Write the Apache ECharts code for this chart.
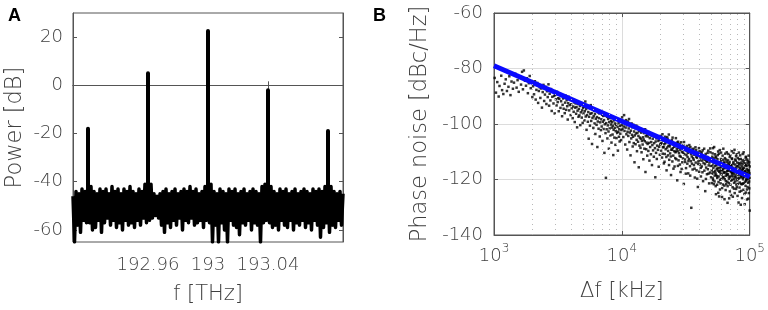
<!DOCTYPE html>
<html><head><meta charset="utf-8">
<script src="https://cdn.jsdelivr.net/npm/echarts@6/dist/echarts.min.js"></script>
<style>html,body{margin:0;padding:0;background:#fff}#c{width:768px;height:310px}</style>
</head><body><div id="c"></div>
<script>
// ---------- Panel A: optical spectrum ----------
const specStartTHz = 192.91;   // first sample frequency
const specStepTHz = 0.001;     // sample spacing
// noise-floor power [dB] per sample
const specPowerDb = [
 -46,-65,-44,-58,-45,-61,-43,-56,-44,-57,-40,-57,-42,-60,-44,-59,-45,-56,-43,-61,
 -44,-57,-43,-55,-45,-58,-42,-56,-44,-59,-43,-57,-45,-60,-43,-56,-44,-58,-42,-57,
 -44,-59,-45,-56,-43,-58,-44,-55,-41,-57,-40,-56,-41,-55,-45,-54,-46,-55,-45,-58,
 -44,-61,-43,-57,-45,-59,-44,-56,-43,-58,-45,-55,-44,-60,-43,-56,-44,-57,-42,-55,
 -44,-58,-43,-57,-45,-56,-44,-59,-42,-56,-40,-57,-41,-65,-44,-58,-45,-65,-43,-57,
 -44,-60,-45,-65,-43,-56,-44,-58,-43,-59,-45,-62,-44,-57,-43,-58,-45,-56,-44,-60,
 -43,-57,-44,-58,-45,-65,-42,-57,-41,-56,-40,-57,-42,-59,-44,-58,-45,-60,-43,-56,
 -44,-58,-43,-59,-45,-56,-44,-60,-43,-57,-45,-58,-44,-56,-43,-59,-44,-57,-45,-60,
 -43,-56,-44,-58,-43,-63,-44,-59,-42,-57,-41,-61,-42,-58,-44,-59,-45,-56,-44,-58,
 -45
];
// comb lines
const peakFreqTHz = [192.92, 192.96, 193, 193.04, 193.08];
const peakPowerDb = [-18, 5, 22.5, -2, -19];
const peakBaseDb = -46;
const specTicks = [192.96, 193, 193.04];
const specYTicks = [-60, -40, -20, 0, 20];

// ---------- Panel B: phase noise ----------
// scatter points [offset kHz, dBc/Hz]
const pnPoints = [
 [1012,-83.4],[1036,-88.7],[1061,-84.9],[1088,-90.1],[1104,-86.3],[1139,-82.6],[1157,-87.8],[1183,-89.2],[1210,-85.5],[1236,-83.9],
 [1262,-88.1],[1297,-86.6],[1318,-82.8],[1345,-89.6],[1371,-84.7],[1406,-87.3],[1433,-85.1],[1467,-81.9],[1502,-86.9],[1529,-84.2],
 [1561,-88.4],[1593,-83.1],[1627,-85.8],[1658,-81.2],[1684,-87.5],[1712,-80.7],[1748,-84.4],[1779,-86.2],[1806,-83.5],[1841,-88.9],
 [1873,-85.3],[1902,-82.7],[1938,-87.1],[1967,-84.8],[1994,-90.3],
 [2021,-86.4],[2057,-89.3],[2089,-84.6],[2118,-91.2],[2146,-87.7],[2183,-85.2],[2214,-92.4],[2242,-88.1],[2279,-86.8],[2305,-90.6],
 [2338,-87.2],[2371,-94.1],[2404,-88.5],[2437,-85.9],[2468,-91.7],[2502,-89.4],[2533,-86.6],[2569,-92.8],[2596,-88.2],[2631,-90.3],
 [2667,-85.7],[2698,-93.4],[2724,-89.1],[2761,-91.5],[2793,-87.4],[2826,-95.3],[2858,-90.2],[2887,-88.3],[2919,-92.6],[2954,-89.9],
 [2983,-96.2],[3017,-89.5],[3049,-91.1],[3086,-93.3],[3112,-88.4],[3148,-92.1],[3177,-90.7],[3209,-95.4],[3243,-90.9],[3276,-89.1],
 [3311,-94.2],[3347,-91.8],[3372,-89.6],[3408,-97.2],[3441,-93.1],[3469,-90.8],[3506,-94.5],[3538,-90.4],[3574,-96.1],[3601,-92.3],
 [3639,-89.8],[3668,-94.9],[3703,-91.4],[3735,-93.6],[3772,-98.4],[3804,-92.5],[3839,-90.2],[3871,-95.1],[3906,-93.2],[3937,-91.3],
 [3978,-96.8],[4012,-92.9],[4051,-94.4],[4083,-91.5],[4127,-97.9],[4162,-93.7],[4198,-95.6],[4236,-92.2],[4279,-99.3],[4311,-94.1],
 [4352,-92.6],[4389,-96.3],[4421,-93.9],[4467,-101.2],[4503,-95.2],[4538,-92.8],[4579,-97.4],[4614,-94.6],[4652,-96.9],[4697,-93.5],
 [4731,-100.4],[4774,-95.8],[4812,-93.1],[4856,-97.7],[4893,-95.1],[4938,-99.6],[4971,-94.3],
 [5012,-96.2],[5054,-93.8],[5093,-98.7],[5131,-95.4],[5178,-91.9],[5214,-97.3],[5257,-94.6],[5293,-102.1],[5338,-96.8],[5376,-93.5],
 [5419,-99.2],[5463,-95.7],[5502,-105.3],[5541,-97.4],[5589,-94.1],[5627,-100.6],[5671,-96.3],[5712,-93.2],[5758,-98.9],[5804,-96.1],
 [5843,-107.2],[5891,-97.8],[5934,-94.7],[5982,-101.4],[6021,-97.2],[6067,-95.3],[6113,-99.8],[6158,-96.4],[6204,-103.6],[6249,-98.1],
 [6298,-94.9],[6341,-100.3],[6387,-97.5],[6432,-108.3],[6479,-99.1],[6528,-95.8],[6573,-101.7],[6621,-97.9],[6669,-96.2],[6714,-104.5],
 [6762,-99.4],[6811,-95.6],[6859,-102.2],[6908,-98.3],[6953,-100.9],[7004,-96.7],[7052,-106.1],[7103,-99.2],[7149,-97.1],[7198,-101.8],
 [7251,-98.6],[7302,-110.4],[7347,-100.1],[7396,-96.9],[7449,-103.3],[7503,-119.4],[7548,-99.7],[7602,-101.9],[7651,-97.4],[7704,-105.2],
 [7758,-100.5],[7811,-98.2],[7862,-102.7],[7913,-108.9],[7967,-99.3],[8021,-101.6],[8078,-97.8],[8129,-104.1],[8183,-100.2],[8237,-98.9],
 [8294,-106.7],[8348,-101.3],[8401,-99.4],[8459,-103.8],[8512,-100.6],[8569,-111.2],[8623,-102.1],[8681,-98.7],[8737,-104.9],[8792,-101.4],
 [8853,-99.8],[8908,-107.5],[8962,-102.6],[9021,-100.3],[9078,-105.1],[9139,-98.4],[9194,-103.2],[9253,-101.1],[9312,-109.6],[9371,-102.8],
 [9428,-99.7],[9491,-104.6],[9547,-101.9],[9608,-106.3],[9664,-100.7],[9723,-103.5],[9789,-98.9],[9847,-105.8],[9912,-102.2],[9971,-100.4],
 [10043,-97.6],[10118,-101.8],[10197,-99.3],[10264,-104.7],[10338,-100.9],[10409,-96.8],[10487,-102.5],[10553,-99.9],[10631,-107.4],[10702,-101.3],
 [10779,-98.6],[10851,-103.7],[10928,-100.4],[11002,-109.2],[11074,-102.8],[11149,-99.1],[11226,-104.3],[11301,-101.6],[11378,-98.2],[11452,-106.5],
 [11529,-103.1],[11603,-100.7],[11684,-111.3],[11759,-102.4],[11837,-105.2],[11914,-99.8],[11993,-103.9],[12071,-101.2],[12152,-108.1],[12229,-104.6],
 [12311,-100.3],[12389,-106.9],[12472,-102.7],[12553,-113.8],[12634,-104.1],[12718,-101.5],[12796,-107.3],[12881,-103.4],[12962,-100.6],[13047,-105.7],
 [13129,-109.8],[13214,-103.2],[13298,-101.1],[13383,-106.4],[13469,-104.3],[13552,-115.6],[13641,-102.6],[13727,-107.8],[13813,-104.9],[13902,-101.7],
 [13991,-108.6],[14078,-105.3],[14169,-103.1],[14257,-110.2],[14349,-106.1],[14441,-102.2],[14533,-107.4],[14624,-104.8],[14718,-112.7],[14811,-105.6],
 [14907,-103.3],[15003,-108.9],[15098,-106.2],[15196,-101.9],[15294,-117.3],[15392,-104.4],[15491,-109.1],[15593,-106.7],[15692,-103.8],[15796,-111.4],
 [15898,-107.2],[16002,-104.5],[16109,-109.7],[16213,-102.9],[16321,-106.8],[16428,-113.2],[16537,-105.1],[16644,-108.3],[16755,-103.6],[16864,-110.9],
 [16976,-106.5],[17089,-104.2],[17201,-114.8],[17317,-107.6],[17431,-105.3],[17546,-109.5],[17664,-103.7],[17781,-111.8],[17899,-106.9],[18019,-104.6],
 [18141,-108.7],[18262,-119.2],[18386,-106.3],[18509,-110.4],[18634,-105.2],[18761,-112.6],[18889,-107.8],[19018,-104.9],[19148,-109.3],[19281,-106.1],
 [19412,-115.4],[19547,-108.2],[19681,-105.7],[19818,-111.1],[19957,-107.4],
 [20094,-104.3],[20273,-109.6],[20431,-106.8],[20618,-112.1],[20779,-103.7],[20952,-108.4],[21127,-105.9],[21308,-114.2],[21476,-107.3],[21651,-110.8],
 [21834,-104.6],[22009,-109.1],[22187,-106.2],[22368,-116.7],[22549,-108.5],[22731,-105.4],[22918,-111.3],[23102,-107.9],[23287,-103.8],[23476,-112.9],
 [23664,-108.1],[23853,-110.6],[24047,-106.3],[24238,-118.4],[24434,-109.2],[24629,-105.8],[24828,-113.5],[25024,-108.7],[25227,-111.4],[25428,-106.9],
 [25631,-109.8],[25837,-115.3],[26044,-107.6],[26253,-110.2],[26461,-105.1],[26674,-112.7],[26886,-108.9],[27101,-120.3],[27318,-109.7],[27534,-106.4],
 [27753,-113.1],[27976,-110.5],[28197,-107.2],[28423,-114.6],[28649,-109.4],[28876,-111.8],[29107,-106.6],[29339,-116.2],[29571,-110.1],[29806,-108.3],
 [30043,-112.4],[30282,-107.7],[30521,-121.6],[30763,-110.9],[31008,-108.6],[31254,-113.7],[31502,-109.1],[31753,-115.9],[32004,-111.2],[32259,-107.9],
 [32516,-114.3],[32773,-110.4],[33034,-117.8],[33297,-108.8],[33561,-112.6],[33828,-110.1],[34097,-115.2],[34368,-108.3],[34642,-113.4],[34918,-130.2],
 [35196,-111.7],[35474,-109.2],[35757,-116.4],[36041,-112.3],[36327,-108.9],[36615,-114.8],[36905,-111.1],[37198,-119.3],[37492,-110.6],[37789,-113.9],
 [38087,-109.4],[38388,-116.7],[38691,-112.2],[38997,-110.3],[39304,-122.7],[39614,-113.5],[39926,-111.4],[40240,-117.2],[40557,-109.8],[40876,-114.6],
 [41197,-112.1],[41521,-118.9],[41847,-110.7],[42175,-115.3],[42506,-113.2],[42839,-109.5],[43174,-120.6],[43512,-114.1],[43853,-111.6],[44195,-116.8],
 [44541,-112.9],[44888,-124.2],[45238,-110.8],[45591,-115.7],[45946,-113.4],[46304,-118.1],[46664,-111.9],[47026,-116.3],[47391,-109.6],[47759,-114.9],
 [48129,-121.4],[48502,-112.7],[48876,-117.5],[49254,-110.2],[49634,-115.1],
 [20185,-107.1],[20526,-105.2],[20866,-110.7],[21213,-108.3],[21563,-113.6],[21918,-106.9],[22276,-111.9],[22638,-104.8],[23011,-109.7],[23381,-114.8],
 [23758,-107.4],[24139,-111.7],[24531,-109.3],[24926,-104.9],[25326,-116.1],[25733,-108.2],[26148,-112.3],[26568,-109.9],[26993,-106.7],[27426,-115.1],
 [27866,-108.6],[28311,-111.5],[28763,-117.3],[29223,-108.1],[29689,-113.8],[30162,-110.3],[30641,-106.5],[31131,-112.8],[31627,-117.9],[32132,-109.7],
 [32645,-111.9],[33165,-113.3],[33694,-107.6],[34232,-118.6],[34779,-110.8],[35335,-114.3],[35899,-109.6],[36471,-112.9],[37052,-116.1],[37641,-108.4],
 [38238,-111.8],[38843,-119.7],[39459,-114.4],[40083,-108.7],[40716,-113.1],[41359,-115.8],[42011,-110.2],[42672,-117.4],[43343,-112.4],[44024,-108.9],
 [44715,-114.5],[45414,-119.8],[46125,-113.6],[46845,-110.4],[47575,-117.9],[48317,-113.9],[49066,-108.8],[49827,-119.2],
 [50212,-113.4],[50718,-117.9],[51196,-110.6],[51703,-120.2],[52187,-114.1],[52694,-108.3],[53178,-118.6],[53689,-115.2],[54183,-122.4],[54691,-112.1],
 [55197,-116.3],[55703,-119.4],[56219,-111.2],[56728,-124.8],[57241,-114.3],[57752,-117.2],[58269,-109.4],[58781,-120.1],[59297,-115.4],[59814,-113.2],
 [60339,-118.2],[60853,-123.1],[61372,-111.4],[61896,-116.2],[62417,-119.3],[62941,-114.2],[63468,-127.1],[63996,-112.3],[64521,-117.4],[65053,-120.6],
 [65582,-115.1],[66117,-110.2],[66649,-118.3],[67183,-122.4],[67719,-113.1],[68258,-116.4],[68797,-119.7],[69342,-114.6],[69884,-124.3],[70429,-111.3],
 [70977,-117.1],[71524,-120.4],[72078,-115.2],[72631,-112.4],[73187,-118.1],[73746,-126.2],[74305,-114.3],[74868,-117.3],[75431,-121.2],[75999,-109.3],
 [76567,-116.2],[77134,-119.1],[77709,-113.2],[78282,-123.4],[78861,-117.2],[79439,-115.1],[80021,-120.3],[80603,-112.2],[81188,-118.4],[81776,-128.3],
 [82365,-114.1],[82957,-117.2],[83552,-121.1],[84148,-111.3],[84747,-116.4],[85349,-119.2],[85951,-124.1],[86558,-115.3],[87165,-118.2],[87775,-113.1],
 [88389,-121.4],[89004,-116.1],[89621,-110.2],[90241,-119.1],[90863,-125.2],[91488,-114.2],[92114,-117.1],[92744,-122.3],[93377,-112.1],[94011,-120.1],
 [94648,-116.3],[95287,-127.2],[95928,-114.1],[96571,-118.3],[97218,-121.2],[97867,-111.4],[98518,-117.1],[99171,-123.2],[99826,-115.3],
 [50463,-116.7],[50952,-111.8],[51449,-119.6],[51944,-115.8],[52441,-121.7],[52937,-113.6],[53433,-110.9],[53934,-117.7],[54437,-125.3],[54944,-114.8],
 [55449,-118.8],[55961,-112.7],[56473,-116.8],[56988,-120.9],[57497,-110.7],[58011,-115.9],[58523,-123.6],[59038,-117.8],[59556,-112.6],[60076,-119.8],
 [60596,-114.9],[61112,-116.7],[61634,-121.8],[62158,-108.9],[62679,-117.6],[63204,-113.8],[63733,-119.9],[64259,-115.7],[64788,-123.8],[65317,-112.8],
 [65849,-117.9],[66384,-114.7],[66917,-120.8],[67451,-116.9],[67989,-110.8],[68528,-118.9],[69071,-126.8],[69613,-113.7],[70158,-116.8],[70701,-121.9],
 [71251,-114.8],[71801,-118.7],[72354,-109.8],[72908,-117.7],[73467,-122.8],[74025,-115.8],[74586,-113.7],[75147,-119.8],[75715,-116.7],[76282,-124.9],
 [76852,-112.8],[77422,-118.6],[77996,-115.7],[78571,-121.8],[79152,-110.9],[79729,-117.8],[80312,-125.9],[80896,-114.8],[81481,-119.7],[82069,-116.8],
 [82661,-112.7],[83253,-122.9],[83851,-117.6],[84449,-115.8],[85047,-129.1],[85649,-113.9],[86252,-118.8],[86863,-121.7],[87471,-116.7],[88083,-110.8],
 [88696,-119.9],[89312,-123.7],[89931,-115.7],[90552,-118.7],[91174,-112.9],[91801,-120.8],[92431,-116.9],[93063,-124.7],[93694,-114.9],[94329,-119.8],
 [94967,-117.6],[95606,-112.8],[96249,-122.7],[96892,-116.8],[97541,-126.9],[98191,-114.7],[98844,-120.7],[99499,-117.8],[99954,-131.2],
 [50584,-121.3],[51071,-114.9],[51577,-108.7],[52065,-117.4],[52563,-112.4],[53061,-120.7],[53561,-116.9],[54062,-111.7],[54564,-118.3],[55071,-113.9],
 [55576,-121.9],[56089,-115.8],[56601,-109.9],[57118,-118.9],[57629,-126.1],[58142,-113.8],[58652,-116.9],[59167,-121.4],[59684,-110.3],[60207,-116.5],
 [60724,-126.3],[61243,-114.4],[61765,-119.1],[62287,-112.9],[62812,-117.3],[63336,-122.2],[63863,-115.9],[64392,-110.7],[64919,-118.7],[65448,-121.7],
 [65981,-113.6],[66518,-116.9],[67051,-128.4],[67586,-118.1],[68123,-114.2],[68664,-121.3],[69207,-116.1],[69751,-111.9],[70293,-119.2],[70839,-114.9],
 [71383,-125.6],[71937,-117.4],[72491,-112.6],[73049,-120.1],[73606,-116.6],[74166,-118.9],[74727,-110.4],[75289,-123.3],[75853,-117.9],[76424,-114.6],
 [76993,-120.7],[77566,-116.4],[78142,-111.6],[78719,-119.6],[79296,-122.7],[79877,-113.9],[80461,-117.5],[81045,-121.6],[81629,-115.6],[82218,-110.3],
 [82809,-119.4],[83402,-124.4],[84001,-114.6],[84598,-118.3],[85198,-112.6],[85803,-121.6],[86404,-117.1],[87015,-126.7],[87625,-114.5],[88236,-119.3],
 [88852,-116.2],[89468,-113.7],[90087,-121.5],[90707,-117.3],[91332,-128.9],[91958,-114.8],[92587,-118.2],[93218,-111.8],[93853,-120.6],[94488,-115.2],
 [95129,-123.6],[95771,-117.9],[96411,-113.3],[97062,-119.6],[97712,-116.5],[98364,-124.9],[99017,-113.8],[99661,-119.4]
];
// fitted trend line endpoints
const fitFreqKHz = [1000, 100000];
const fitNoiseDb = [-79, -119];
// minor log-grid positions (kHz)
const minorGridKHz = [2000,3000,4000,5000,6000,7000,8000,9000,20000,30000,40000,50000,60000,70000,80000,90000];

const FONT = 'DejaVu Sans';
const TXT = '#404040';
const AX = '#555';

const specData = specPowerDb.map((p, i) => [specStartTHz + i * specStepTHz, p]);
const peakData = [];
peakFreqTHz.forEach((f, i) => { peakData.push([f, peakBaseDb], [f, peakPowerDb[i]], [f, '-']); });
const fitData = fitFreqKHz.map((f, i) => [f, fitNoiseDb[i]]);

const tickLbl = { color: TXT, fontFamily: FONT, fontSize: 18, fontWeight: 300 };
const nameX = { color: TXT, fontFamily: FONT, fontSize: 21, fontWeight: 300 };
const nameY = { color: TXT, fontFamily: FONT, fontSize: 22.5, fontWeight: 300 };

const chart = echarts.init(document.getElementById('c'), null, { renderer: 'canvas' });
chart.setOption({
  animation: false,
  grid: [
    { left: 73, top: 13, width: 270, height: 229, show: true, borderColor: AX, borderWidth: 1, backgroundColor: '#fff' },
    { left: 494, top: 13, width: 256, height: 222, show: true, borderColor: AX, borderWidth: 1, backgroundColor: '#fff' }
  ],
  xAxis: [
    { type: 'value', gridIndex: 0, min: 192.91, max: 193.09, position: 'bottom',
      name: 'f [THz]', nameLocation: 'middle', nameGap: 42, nameTextStyle: nameX,
      axisLine: { show: true, lineStyle: { color: AX } },
      axisTick: { show: true, inside: true, length: 4, customValues: specTicks, lineStyle: { color: AX } },
      axisLabel: { show: true, customValues: specTicks, margin: 14, ...tickLbl, formatter: v => String(+(+v).toFixed(2)) },
      splitLine: { show: false } },
    { type: 'value', gridIndex: 0, min: 192.91, max: 193.09, position: 'top',
      axisLine: { show: true, lineStyle: { color: AX } },
      axisTick: { show: true, inside: true, length: 4, customValues: specTicks, lineStyle: { color: AX } },
      axisLabel: { show: false }, splitLine: { show: false } },
    { type: 'log', gridIndex: 1, logBase: 10, min: 1000, max: 100000, position: 'bottom',
      name: 'Δf [kHz]', nameLocation: 'middle', nameGap: 46, nameTextStyle: nameX,
      axisLine: { show: true, lineStyle: { color: AX } },
      axisTick: { show: true, inside: true, length: 4, lineStyle: { color: AX } },
      axisLabel: { show: true, margin: 8, color: TXT, fontFamily: FONT, fontWeight: 300,
        formatter: v => '{b|10}{s|' + Math.round(Math.log10(v)) + '}',
        rich: { b: { fontSize: 18, fontFamily: FONT, fontWeight: 300, color: TXT, lineHeight: 26 },
                s: { fontSize: 12, fontFamily: FONT, fontWeight: 300, color: TXT, lineHeight: 12, verticalAlign: 'top' } } },
      splitLine: { show: true, lineStyle: { color: '#dcdcdc', width: 1 } } },
    { type: 'log', gridIndex: 1, logBase: 10, min: 1000, max: 100000, position: 'top',
      axisLine: { show: true, lineStyle: { color: AX } },
      axisTick: { show: true, inside: true, length: 4, lineStyle: { color: AX } },
      axisLabel: { show: false }, splitLine: { show: false } }
  ],
  yAxis: [
    { type: 'value', gridIndex: 0, min: -65, max: 30, position: 'left',
      name: 'Power [dB]', nameLocation: 'middle', nameGap: 46, nameTextStyle: nameY,
      axisLine: { show: true, lineStyle: { color: AX } },
      axisTick: { show: true, inside: true, length: 4, customValues: specYTicks, lineStyle: { color: AX } },
      axisLabel: { show: true, customValues: specYTicks, margin: 10, ...tickLbl },
      splitLine: { show: false } },
    { type: 'value', gridIndex: 0, min: -65, max: 30, position: 'right',
      axisLine: { show: true, lineStyle: { color: AX } },
      axisTick: { show: true, inside: true, length: 4, customValues: specYTicks, lineStyle: { color: AX } },
      axisLabel: { show: false }, splitLine: { show: false } },
    { type: 'value', gridIndex: 1, min: -140, max: -60, interval: 20, position: 'left',
      name: 'Phase noise [dBc/Hz]', nameLocation: 'middle', nameGap: 62, nameTextStyle: nameY,
      axisLine: { show: true, lineStyle: { color: AX } },
      axisTick: { show: true, inside: true, length: 4, lineStyle: { color: AX } },
      axisLabel: { show: true, margin: 11, ...tickLbl },
      splitLine: { show: true, lineStyle: { color: '#dcdcdc', width: 1 } } },
    { type: 'value', gridIndex: 1, min: -140, max: -60, interval: 20, position: 'right',
      axisLine: { show: true, lineStyle: { color: AX } },
      axisTick: { show: true, inside: true, length: 4, lineStyle: { color: AX } },
      axisLabel: { show: false }, splitLine: { show: false } }
  ],
  graphic: [
    { type: 'text', left: 8, top: 7, style: { text: 'A', font: 'bold 18px "Liberation Sans", Arial', fill: '#000' } },
    { type: 'text', left: 373, top: 7, style: { text: 'B', font: 'bold 18px "Liberation Sans", Arial', fill: '#000' } }
  ],
  series: [
    { type: 'line', xAxisIndex: 0, yAxisIndex: 0, data: specData, showSymbol: false, symbol: 'none',
      lineStyle: { color: '#000', width: 3.5, join: 'round' }, clip: true, silent: true },
    { type: 'line', xAxisIndex: 0, yAxisIndex: 0, data: peakData, showSymbol: false, symbol: 'none', connectNulls: false,
      lineStyle: { color: '#000', width: 4, cap: 'round' }, clip: true, silent: true },
    { type: 'scatter', xAxisIndex: 2, yAxisIndex: 2, data: pnPoints, symbol: 'rect', symbolSize: 2.5,
      itemStyle: { color: '#000' }, silent: true, z: 3, large: false,
      markLine: { silent: true, symbol: 'none', label: { show: false }, animation: false,
        lineStyle: { color: '#b8b8b8', type: [1, 4], width: 1 },
        data: minorGridKHz.map(v => ({ xAxis: v })) } },
    { type: 'line', xAxisIndex: 2, yAxisIndex: 2, data: fitData, showSymbol: false, symbol: 'none',
      lineStyle: { color: '#0a0aff', width: 5 }, z: 4, silent: true }
  ]
});
</script></body></html>
